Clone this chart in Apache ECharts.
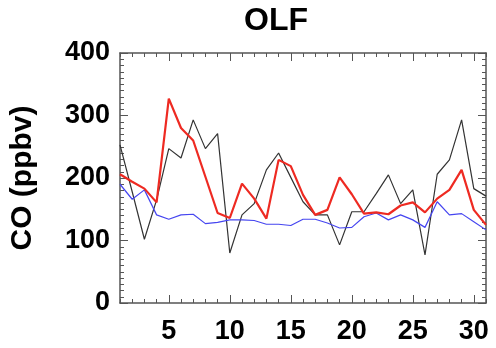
<!DOCTYPE html>
<html>
<head>
<meta charset="utf-8">
<script src="https://cdn.jsdelivr.net/npm/echarts@6/dist/echarts.min.js"></script>
<style>
  html, body { margin: 0; padding: 0; background: #fff; }
  #chart { width: 496px; height: 348px; }
</style>
</head>
<body>
<div id="chart"></div>
<script>
// Daily CO mixing ratio at OLF, days 1-31
const days = [1,2,3,4,5,6,7,8,9,10,11,12,13,14,15,16,17,18,19,20,21,22,23,24,25,26,27,28,29,30,31];
const observed = [253,178,102,165,247,232,293,247,271,80,141,159,213,240,201,162,141,141,93,146,146,175,205,159,181,77,206,229,293,183,171];
const modelRed = [206,194,183,161,327,280,260,202,144,136,191,167,135,229,219,173,141,149,201,174,143,145,142,156,161,145,167,181,213,149,125];
const modelBlue = [190,166,181,141,134,141,142,127,129,133,133,132,126,126,124,134,134,128,120,121,138,144,133,141,133,121,162,141,143,130,117];
const xMajorTicks = [5,10,15,20,25,30];
const yTitle = 'CO (ppbv)';
const chartTitle = 'OLF';

const FONT = '"Liberation Sans", Arial, Helvetica, sans-serif';
const frameColor = '#555';

function pairs(vals) { return days.map((d, i) => [d, vals[i]]); }

function xAxisDef(pos, major, labels) {
  return {
    type: 'value', min: 1, max: 31, position: pos,
    axisLine: { show: major, lineStyle: { color: frameColor, width: 1.5 } },
    axisTick: { show: true, inside: true, length: major ? 8 : 4,
      customValues: major ? xMajorTicks : days,
      lineStyle: { color: frameColor, width: 1 } },
    axisLabel: { show: labels, customValues: xMajorTicks, margin: 15,
      color: '#000', fontFamily: FONT, fontWeight: 'bold', fontSize: 27 },
    splitLine: { show: false }
  };
}

function yAxisDef(pos, labels) {
  return {
    type: 'value', min: 0, max: 400, interval: 100, position: pos,
    name: labels ? yTitle : '', nameLocation: 'middle', nameGap: 82, nameRotate: 90,
    nameTextStyle: { color: '#000', fontFamily: FONT, fontWeight: 'bold', fontSize: 30 },
    axisLine: { show: true, lineStyle: { color: frameColor, width: 1.5 } },
    axisTick: { show: true, inside: true, length: 8, lineStyle: { color: frameColor, width: 1 } },
    minorTick: { show: true, splitNumber: 10, length: 4, lineStyle: { color: frameColor, width: 1 } },
    axisLabel: { show: labels, margin: 10, color: '#000', fontFamily: FONT, fontWeight: 'bold', fontSize: 27 },
    splitLine: { show: false }, minorSplitLine: { show: false }
  };
}

const chart = echarts.init(document.getElementById('chart'), null, { renderer: 'canvas' });
chart.setOption({
  animation: false,
  backgroundColor: '#fff',
  graphic: [{
    type: 'text', x: 276, y: 5,
    style: { text: chartTitle, fill: '#000', font: 'bold 32px ' + FONT, textAlign: 'center', textVerticalAlign: 'top' }
  }],
  grid: { left: 118, right: 10, top: 53, bottom: 45 },
  xAxis: [
    xAxisDef('bottom', true, true),
    xAxisDef('bottom', false, false),
    xAxisDef('top', true, false),
    xAxisDef('top', false, false)
  ],
  yAxis: [yAxisDef('left', true), yAxisDef('right', false)],
  series: [
    { type: 'line', data: pairs(observed), symbol: 'none', xAxisIndex: 0, yAxisIndex: 0,
      lineStyle: { color: '#333', width: 1.2 }, z: 3 },
    { type: 'line', data: pairs(modelBlue), symbol: 'none', xAxisIndex: 0, yAxisIndex: 0,
      lineStyle: { color: '#4646f0', width: 1.2 }, z: 4 },
    { type: 'line', data: pairs(modelRed), symbol: 'none', xAxisIndex: 0, yAxisIndex: 0,
      lineStyle: { color: '#ee2a22', width: 2.2 }, z: 5 }
  ]
});
</script>
</body>
</html>
